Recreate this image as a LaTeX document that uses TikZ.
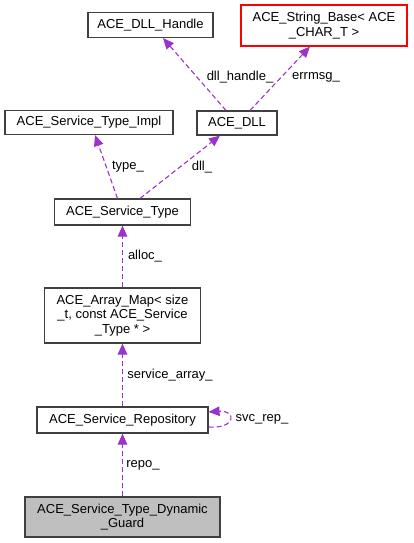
\documentclass[tikz,border=0pt]{standalone}
\usepackage{fontspec}
\setmainfont{Liberation Sans}
\usetikzlibrary{arrows.meta}
\definecolor{edgec}{HTML}{9A32CD}
\tikzset{
 cls/.style={draw=black!75, line width=1.1pt, align=center, inner sep=0pt, font=\fontsize{13}{14.5}\selectfont},
 rel/.style={draw=edgec, line width=1.1pt, dash pattern=on 5pt off 3pt, -{Triangle[length=11pt,width=9.5pt,fill=edgec]}},
 lbl/.style={font=\fontsize{13}{14.5}\selectfont, inner sep=0pt}
}
\begin{document}
\begin{tikzpicture}[x=1pt,y=-1pt]
\useasboundingbox (0,0) rectangle (413,543);
\node[cls, minimum width=125pt, minimum height=25pt] (handle) at (150.5,25) {ACE\_DLL\_Handle};
\node[cls, draw=red, minimum width=166pt, minimum height=41pt] (strbase) at (324,25.5) {ACE\_String\_Base< ACE\\\_CHAR\_T >};
\node[cls, minimum width=168pt, minimum height=24pt] (impl) at (89,122.5) {ACE\_Service\_Type\_Impl};
\node[cls, minimum width=80pt, minimum height=24pt] (dll) at (237,123) {ACE\_DLL};
\node[cls, minimum width=136pt, minimum height=26pt] (stype) at (122.5,212) {ACE\_Service\_Type};
\node[cls, minimum width=156pt, minimum height=55pt] (amap) at (122.5,315.5) {ACE\_Array\_Map< size\\\_t, const ACE\_Service\\\_Type * >};
\node[cls, minimum width=171pt, minimum height=26pt] (repo) at (122.5,420) {ACE\_Service\_Repository};
\node[cls, fill=black!25, minimum width=195pt, minimum height=40pt] (guard) at (122.5,517) {ACE\_Service\_Type\_Dynamic\\\_Guard};

\draw[rel] ([xshift=-11pt]dll.north) -- ([xshift=12.5pt]handle.south);
\draw[rel] ([xshift=13pt]dll.north) -- ([xshift=-14pt]strbase.south);
\draw[rel] ([xshift=-5pt]stype.north) -- ([xshift=6pt]impl.south);
\draw[rel] ([xshift=17.5pt]stype.north) -- ([xshift=-17pt]dll.south);
\draw[rel] (amap.north) -- (stype.south);
\draw[rel] (repo.north) -- (amap.south);
\draw[rel] (guard.north) -- (repo.south);
\draw[rel] ([yshift=-7pt]repo.east) .. controls ++(28pt,-2pt) and ++(28pt,2pt) .. ([yshift=8pt]repo.east);

\node[lbl] (l1) at (240,77) {dll\_handle\_};
\node[lbl] (l2) at (316,77) {errmsg\_};
\node[lbl] (l3) at (128,167) {type\_};
\node[lbl] (l4) at (202,167) {dll\_};
\node[lbl] (l5) at (145,256) {alloc\_};
\node[lbl] (l6) at (170,375) {service\_array\_};
\node[lbl] (l7) at (262,419) {svc\_rep\_};
\node[lbl] (l8) at (143,465) {repo\_};
\end{tikzpicture}
\end{document}
